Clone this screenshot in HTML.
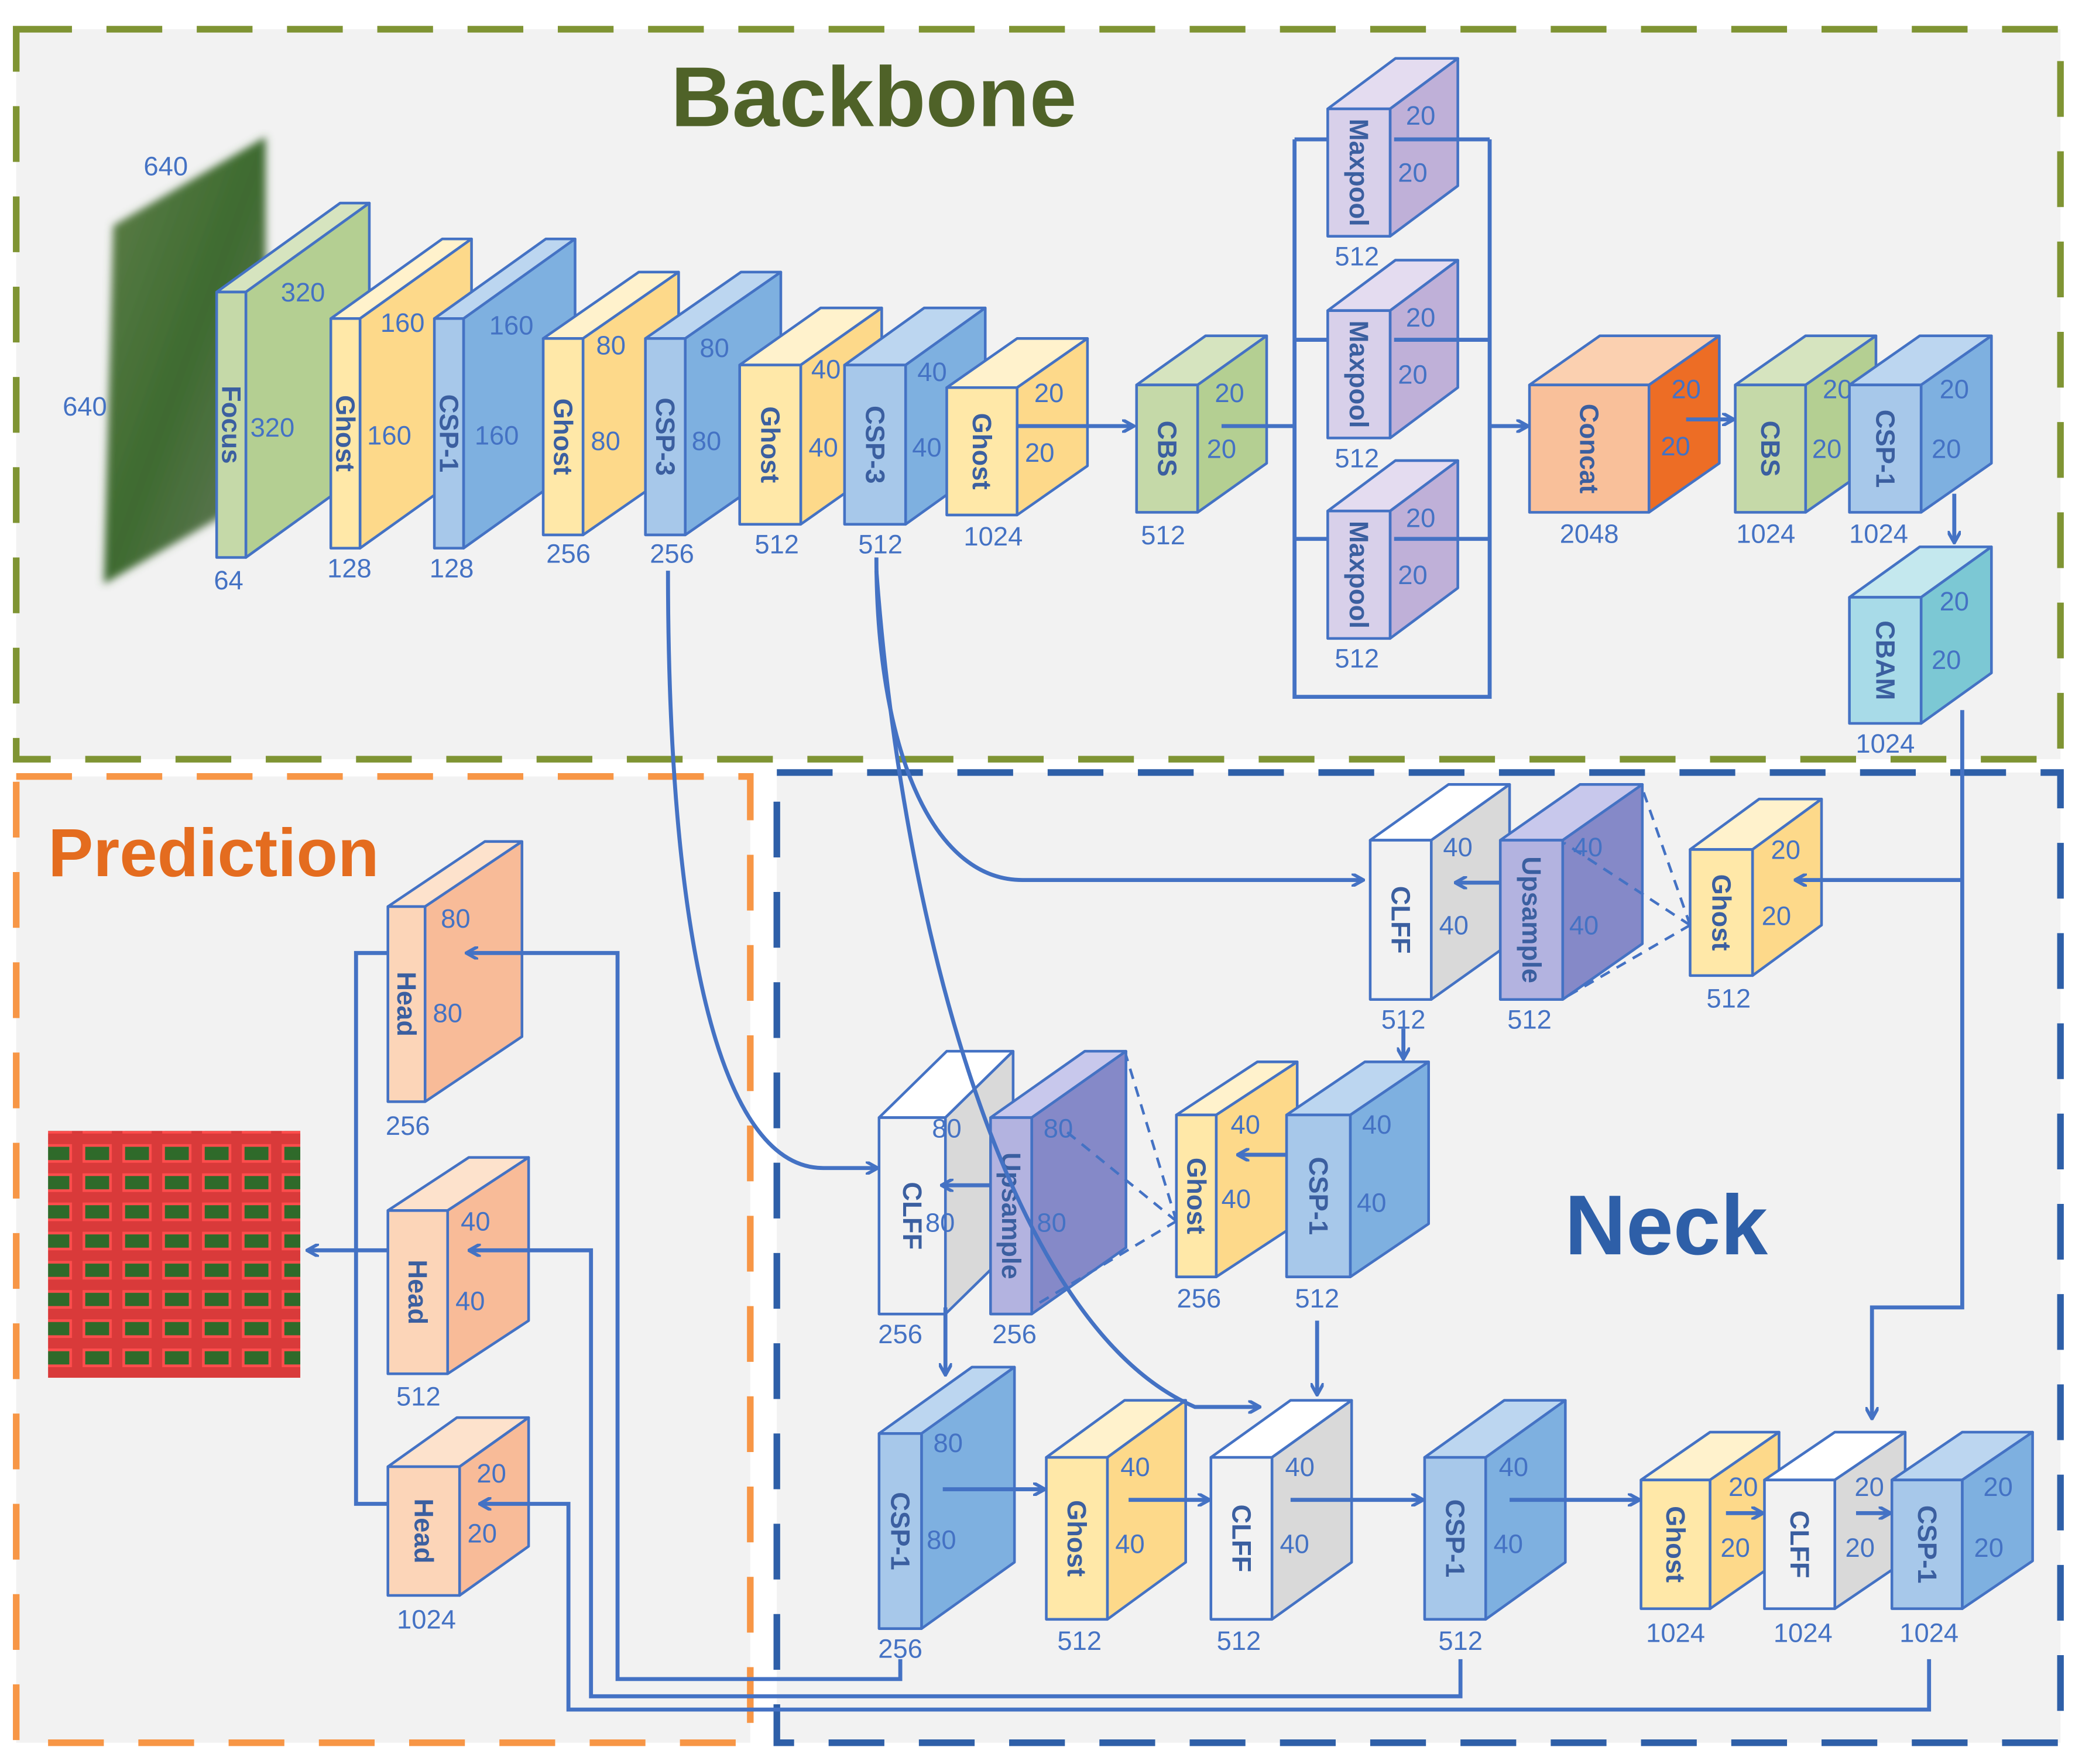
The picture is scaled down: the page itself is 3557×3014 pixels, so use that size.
<!DOCTYPE html>
<html><head><meta charset="utf-8"><style>
html,body{margin:0;padding:0;background:#fff}
svg{display:block}
text{font-family:"Liberation Sans",Arial,sans-serif}
</style></head><body>
<svg id="s" width="3557" height="3014" viewBox="0 0 1568 1329" xmlns="http://www.w3.org/2000/svg">
<defs>
<marker id="a" markerWidth="10" markerHeight="10" refX="8" refY="5" orient="auto" markerUnits="userSpaceOnUse"><path d="M0,0 L9,5 L0,10" fill="none" stroke="#4472c4" stroke-width="2.5"/></marker>
<linearGradient id="g1" x1="0" y1="0" x2="1" y2="1"><stop offset="0" stop-color="#5f7f4a"/><stop offset="0.5" stop-color="#3e6b30"/><stop offset="1" stop-color="#6a7a60"/></linearGradient>
<filter id="bl"><feGaussianBlur stdDeviation="3"/></filter>
<pattern id="pr" width="30" height="22" patternUnits="userSpaceOnUse"><rect width="30" height="22" fill="#d93a3a"/><rect x="3" y="5" width="20" height="12" fill="#2f6a2a" stroke="#ff4d4d" stroke-width="2"/></pattern>
</defs>
<rect x="12" y="22" width="1540" height="550" fill="#f2f2f2" stroke="#7f9433" stroke-width="5" stroke-dasharray="42,26"/>
<rect x="12" y="585" width="553" height="728" fill="#f2f2f2" stroke="#f79646" stroke-width="5" stroke-dasharray="42,26"/>
<rect x="585" y="582" width="967" height="731" fill="#f2f2f2" stroke="#2e5fa8" stroke-width="5" stroke-dasharray="42,26"/>
<text x="658" y="95" text-anchor="middle" font-size="64" font-weight="bold" fill="#4f6228">Backbone</text>
<text x="36" y="660" font-size="51" font-weight="bold" fill="#e46c1f">Prediction</text>
<text x="1255" y="945" text-anchor="middle" font-size="64" font-weight="bold" fill="#2e5fa8">Neck</text>
<polygon points="85,170 200,103 200,370 78,440" fill="url(#g1)" filter="url(#bl)"/>
<text x="108" y="132" font-size="20" fill="#4472c4">640</text>
<text x="47" y="313" font-size="20" fill="#4472c4">640</text>
<rect x="36" y="852" width="190" height="186" fill="url(#pr)"/>
<g id="cubes"></g>
<g id="lines" fill="none" stroke="#4472c4" stroke-width="3"></g>
</svg>
<script>
var NS="http://www.w3.org/2000/svg";
var C={g:["#d6e4bf","#c5d9a8","#b4cf92"],y:["#fff2cc","#ffe8a8","#fdd98a"],b:["#bcd6f0","#a7c8ea","#7eb0e0"],w:["#ffffff","#f2f2f2","#d9d9d9"],u:["#c8c8ec","#b3b3e0","#8589c8"],m:["#e4dcf0","#d8d0ea","#bfb0d8"],o:["#fbd0b0","#f9c09a","#ed6d25"],c:["#c4e8ee","#a8dbe8","#7cc8d4"],h:["#fde2cc","#fcd5b8","#f8bb98"]};
function el(t,a,p,txt){var e=document.createElementNS(NS,t);for(var k in a)e.setAttribute(k,a[k]);if(txt)e.textContent=txt;p.appendChild(e);return e;}
var G=document.getElementById("cubes"),L=document.getElementById("lines");
function cube(x,y,x2,y2,tx,ty,col,lab,l1,l2,bot){
 var dx=tx-x2,dy=y-ty,c=C[col],st={stroke:"#4472c4","stroke-width":2,"stroke-linejoin":"round"};
 var a=Object.assign({},st);a.points=[x,y,x2,y,tx,ty,tx-(x2-x),ty].join(" ");a.fill=c[0];el("polygon",a,G);
 a=Object.assign({},st);a.points=[x2,y,tx,ty,tx,y2-dy,x2,y2].join(" ");a.fill=c[2];el("polygon",a,G);
 a=Object.assign({},st);a.x=x;a.y=y;a.width=x2-x;a.height=y2-y;a.fill=c[1];el("rect",a,G);
 var cx=(x+x2)/2,cy=(y+y2)/2;
 el("text",{x:cx,y:cy,"font-size":20,"font-weight":"bold",fill:"#3b5fa0","text-anchor":"middle","dominant-baseline":"central",transform:"rotate(90 "+cx+" "+cy+")"},G,lab);
 el("text",{x:l1[0],y:l1[1]+7,"font-size":20,fill:"#4472c4","text-anchor":"middle"},G,l1[2]);
 el("text",{x:l2[0],y:l2[1]+7,"font-size":20,fill:"#4472c4","text-anchor":"middle"},G,l2[2]);
 el("text",{x:bot[0],y:bot[1]+7,"font-size":20,fill:"#4472c4","text-anchor":"middle"},G,bot[2]);
}
function ln(d,arrow,dash){var a={d:d};if(arrow)a["marker-end"]="url(#a)";if(dash){a["stroke-dasharray"]="8,6";a["stroke-width"]=2;}el("path",a,L);}
ln("M766,321 L853,321",1);
ln("M920,321 L975,321 M975,105 L975,525 L1122,525 L1122,105 M975,105 L1000,105 M975,256 L1000,256 M975,406 L1000,406 M1050,105 L1122,105 M1050,256 L1122,256 M1050,406 L1122,406");
ln("M1122,321 L1150,321",1);
ln("M1270,316 L1305,316",1);
ln("M1472,372 L1472,408",1);
ln("M1478,535 L1478,985 L1410,985 L1410,1068",1);
ln("M1478,663 L1353,663",1);
ln("M1273,697 L1178,635 M1273,697 L1238,597 M1273,697 L1178,752",0,1);
ln("M1130,665 L1097,665",1);
ln("M660,420 C660,560 700,663 770,663 L1026,663",1);
ln("M1057,775 L1057,797",1);
ln("M969,870 L933,870",1);
ln("M886,920 L848,795 M886,920 L800,850 M886,920 L777,985",0,1);
ln("M746,893 L710,893",1);
ln("M503,430 C503,700 540,880 620,880 L660,880",1);
ln("M712,985 L712,1035",1);
ln("M710,1122 L786,1122",1);
ln("M850,1130 L910,1130",1);
ln("M972,1130 L1071,1130",1);
ln("M1137,1130 L1234,1130",1);
ln("M1300,1140 L1327,1140",1);
ln("M1398,1140 L1423,1140",1);
ln("M992,995 L992,1050",1);
ln("M660,430 C680,700 760,1000 900,1060 L948,1060",1);
ln("M678,1250 L678,1265 L465,1265 L465,718 L352,718",1);
ln("M1100,1250 L1100,1278 L445,1278 L445,942 L354,942",1);
ln("M1453,1250 L1453,1288 L428,1288 L428,1133 L362,1133",1);
ln("M292,718 L268,718 L268,1133 L292,1133");
ln("M292,942 L232,942",1);
cube(163,220,185,420,278,153,"g","Focus",[228,220,"320"],[205,322,"320"],[172,437,"64"]);
cube(249,240,271,413,355,180,"y","Ghost",[303,243,"160"],[293,328,"160"],[263,428,"128"]);
cube(327,240,349,413,433,180,"b","CSP-1",[385,245,"160"],[374,328,"160"],[340,428,"128"]);
cube(409,255,439,403,511,205,"y","Ghost",[460,260,"80"],[456,332,"80"],[428,417,"256"]);
cube(486,255,516,403,588,205,"b","CSP-3",[538,262,"80"],[532,332,"80"],[506,417,"256"]);
cube(557,275,603,395,664,232,"y","Ghost",[622,278,"40"],[620,337,"40"],[585,410,"512"]);
cube(636,275,682,395,742,232,"b","CSP-3",[702,280,"40"],[698,337,"40"],[663,410,"512"]);
cube(713,292,766,388,819,255,"y","Ghost",[790,296,"20"],[783,341,"20"],[748,404,"1024"]);
cube(856,290,902,386,954,253,"g","CBS",[926,296,"20"],[920,338,"20"],[876,403,"512"]);
[0,152,303].forEach(function(o){cube(1000,82+o,1047,178+o,1098,44+o,"m","Maxpool",[1070,87+o,"20"],[1064,130+o,"20"],[1022,193+o,"512"]);});
cube(1152,290,1242,386,1295,253,"o","Concat",[1270,293,"20"],[1262,336,"20"],[1197,402,"2048"]);
cube(1307,290,1360,386,1413,253,"g","CBS",[1384,293,"20"],[1376,338,"20"],[1330,402,"1024"]);
cube(1393,290,1447,386,1500,253,"b","CSP-1",[1472,293,"20"],[1466,338,"20"],[1415,402,"1024"]);
cube(1393,450,1447,545,1500,412,"c","CBAM",[1472,453,"20"],[1466,497,"20"],[1420,560,"1024"]);
cube(1032,633,1078,753,1137,591,"w","CLFF",[1098,638,"40"],[1095,697,"40"],[1057,768,"512"]);
cube(1130,633,1177,753,1237,591,"u","Upsample",[1196,638,"40"],[1193,697,"40"],[1152,768,"512"]);
cube(1273,640,1320,735,1372,602,"y","Ghost",[1345,640,"20"],[1338,690,"20"],[1302,752,"512"]);
cube(662,842,712,990,763,792,"w","CLFF",[713,850,"80"],[708,921,"80"],[678,1005,"256"]);
cube(746,842,777,990,848,792,"u","Upsample",[797,850,"80"],[792,921,"80"],[764,1005,"256"]);
cube(886,840,916,962,977,800,"y","Ghost",[938,847,"40"],[931,903,"40"],[903,978,"256"]);
cube(969,840,1017,962,1076,800,"b","CSP-1",[1037,847,"40"],[1033,906,"40"],[992,978,"512"]);
cube(662,1080,694,1227,764,1030,"b","CSP-1",[714,1087,"80"],[709,1160,"80"],[678,1242,"256"]);
cube(788,1098,834,1220,893,1055,"y","Ghost",[855,1105,"40"],[851,1163,"40"],[813,1236,"512"]);
cube(912,1098,958,1220,1018,1055,"w","CLFF",[979,1105,"40"],[975,1163,"40"],[933,1236,"512"]);
cube(1073,1098,1119,1220,1179,1055,"b","CSP-1",[1140,1105,"40"],[1136,1163,"40"],[1100,1236,"512"]);
cube(1236,1115,1288,1212,1340,1079,"y","Ghost",[1313,1120,"20"],[1307,1166,"20"],[1262,1230,"1024"]);
cube(1329,1115,1382,1212,1435,1079,"w","CLFF",[1408,1120,"20"],[1401,1166,"20"],[1358,1230,"1024"]);
cube(1425,1115,1478,1212,1531,1079,"b","CSP-1",[1505,1120,"20"],[1498,1166,"20"],[1453,1230,"1024"]);
cube(292,683,320,830,393,634,"h","Head",[343,692,"80"],[337,763,"80"],[307,848,"256"]);
cube(292,912,337,1035,398,872,"h","Head",[358,920,"40"],[354,980,"40"],[315,1052,"512"]);
cube(292,1105,346,1202,398,1068,"h","Head",[370,1110,"20"],[363,1155,"20"],[321,1220,"1024"]);
</script>
</body></html>
